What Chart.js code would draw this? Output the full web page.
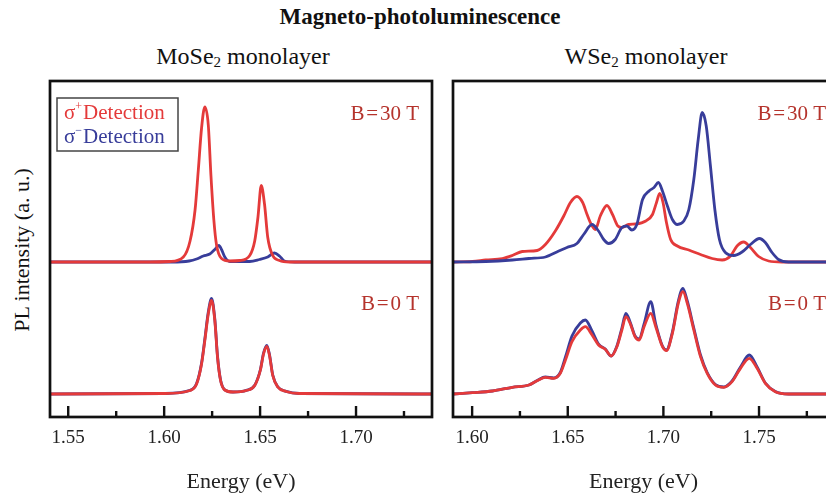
<!DOCTYPE html>
<html>
<head>
<meta charset="utf-8">
<script src="https://cdn.jsdelivr.net/npm/chart.js@4/dist/chart.umd.min.js"></script>
<style>
  html, body { margin: 0; padding: 0; background: #fff; }
  body { width: 826px; height: 498px; overflow: hidden; position: relative; font-family: "Liberation Serif", serif; color: #111; }
  canvas { position: absolute; top: 0; }
  .txt { position: absolute; white-space: nowrap; line-height: 1; }
  #mainTitle { left: 0; width: 840px; top: 5px; text-align: center; font-weight: bold; font-size: 23px; }
  .panelTitle { top: 44px; width: 380px; text-align: center; font-size: 24px; }
  .panelTitle sub { font-size: 15px; vertical-align: -3px; line-height: 0; }
  #yTitle { left: 22px; top: 250px; font-size: 22px; transform: translate(-50%, -50%) rotate(-90deg); }
</style>
</head>
<body>
<div id="mainTitle" class="txt">Magneto-photoluminescence</div>
<div class="txt panelTitle" style="left:53px">MoSe<sub>2</sub> monolayer</div>
<div class="txt panelTitle" style="left:456px">WSe<sub>2</sub> monolayer</div>
<div id="yTitle" class="txt">PL intensity (a. u.)</div>
<canvas id="moseChart" width="440" height="498" style="left:0"></canvas>
<canvas id="wseChart" width="410" height="498" style="left:440px"></canvas>
<script>
// ---- MoSe2 monolayer spectra (energy in eV, PL intensity in a.u.) ----
const mose30PlusE  = [1.5405,1.5927,1.6031,1.6100,1.6135,1.6161,1.6178,1.6195,1.6212,1.6230,1.6244,1.6259,1.6273,1.6299,1.6343,1.6394,1.6446,1.6472,1.6489,1.6506,1.6523,1.6540,1.6566,1.6601,1.6653,1.7396];
const mose30PlusI  = [0,0,0.005,0.05,0.21,0.52,0.92,1.34,1.55,1.37,0.86,0.42,0.17,0.035,0.01,0.015,0.065,0.21,0.45,0.765,0.58,0.245,0.065,0.015,0,0];
const mose30MinusE = [1.5405,1.6040,1.6130,1.6169,1.6204,1.6238,1.6264,1.6285,1.6299,1.6316,1.6342,1.6446,1.6497,1.6540,1.6575,1.6601,1.6627,1.6680,1.7396];
const mose30MinusI = [0,0,0.01,0.03,0.06,0.08,0.125,0.165,0.125,0.05,0.005,0.005,0.025,0.05,0.09,0.06,0.01,0,0];
const mose0E       = [1.5405,1.6000,1.6135,1.6169,1.6195,1.6212,1.6230,1.6247,1.6264,1.6278,1.6294,1.6316,1.6359,1.6428,1.6472,1.6501,1.6518,1.6535,1.6549,1.6566,1.6592,1.6636,1.6705,1.7396];
const mose0PlusI   = [0,0.005,0.035,0.10,0.30,0.535,0.80,0.935,0.735,0.37,0.135,0.04,0.02,0.035,0.085,0.235,0.40,0.475,0.385,0.185,0.07,0.025,0.005,0];
const mose0MinusI  = [0,0.005,0.037,0.105,0.31,0.55,0.82,0.955,0.75,0.38,0.14,0.042,0.02,0.036,0.088,0.24,0.41,0.487,0.395,0.19,0.072,0.026,0.005,0];

// ---- WSe2 monolayer spectra ----
const wse30PlusE  = [1.5900,1.6002,1.6071,1.6158,1.6210,1.6262,1.6340,1.6383,1.6435,1.6479,1.6514,1.6548,1.6578,1.6601,1.6623,1.6644,1.6670,1.6705,1.6734,1.6762,1.6783,1.6818,1.6856,1.6908,1.6943,1.6964,1.6981,1.6998,1.7016,1.7038,1.7073,1.7133,1.7194,1.7255,1.7307,1.7351,1.7385,1.7420,1.7455,1.7498,1.7550,1.7620,1.7892];
const wse30PlusI  = [0,0.005,0.02,0.035,0.065,0.105,0.115,0.175,0.31,0.46,0.595,0.655,0.595,0.475,0.375,0.325,0.46,0.565,0.475,0.36,0.345,0.375,0.38,0.41,0.475,0.595,0.685,0.595,0.395,0.225,0.16,0.12,0.075,0.035,0.02,0.06,0.16,0.20,0.145,0.055,0.01,0,0];
const wse30MinusE = [1.5900,1.6071,1.6210,1.6297,1.6383,1.6453,1.6496,1.6548,1.6583,1.6627,1.6661,1.6688,1.6714,1.6748,1.6783,1.6809,1.6835,1.6861,1.6891,1.6925,1.6951,1.6974,1.6995,1.7021,1.7047,1.7073,1.7107,1.7133,1.7159,1.7182,1.7203,1.7224,1.7246,1.7269,1.7293,1.7324,1.7368,1.7411,1.7455,1.7502,1.7533,1.7568,1.7602,1.7654,1.7892];
const wse30MinusI = [0,0.005,0.02,0.035,0.05,0.11,0.145,0.185,0.275,0.375,0.31,0.225,0.185,0.225,0.345,0.36,0.32,0.375,0.625,0.71,0.745,0.795,0.71,0.56,0.425,0.375,0.41,0.525,0.825,1.225,1.495,1.36,0.96,0.525,0.225,0.095,0.065,0.10,0.175,0.235,0.195,0.095,0.025,0,0];
const wse0E       = [1.5900,1.6002,1.6106,1.6210,1.6297,1.6340,1.6383,1.6427,1.6461,1.6488,1.6522,1.6566,1.6592,1.6627,1.6661,1.6696,1.6727,1.6757,1.6783,1.6804,1.6826,1.6852,1.6873,1.6899,1.6934,1.6960,1.6995,1.7016,1.7047,1.7078,1.7102,1.7125,1.7159,1.7194,1.7229,1.7272,1.7316,1.7359,1.7403,1.7449,1.7490,1.7533,1.7585,1.7654,1.7892];
const wse0PlusI   = [0,0.013,0.03,0.067,0.09,0.133,0.167,0.157,0.207,0.34,0.523,0.64,0.673,0.59,0.49,0.447,0.38,0.473,0.64,0.773,0.707,0.573,0.54,0.673,0.807,0.673,0.473,0.433,0.607,0.907,1.023,0.907,0.64,0.373,0.207,0.09,0.067,0.123,0.257,0.357,0.257,0.107,0.023,0,0];
const wse0MinusI  = [0,0.013,0.03,0.067,0.09,0.135,0.17,0.16,0.215,0.37,0.58,0.71,0.74,0.63,0.50,0.45,0.38,0.48,0.66,0.807,0.72,0.58,0.55,0.70,0.923,0.70,0.48,0.44,0.62,0.93,1.057,0.93,0.66,0.39,0.215,0.095,0.07,0.13,0.27,0.39,0.27,0.11,0.025,0,0];

// ---- axes ----
const moseRange = [1.5405, 1.7396];
const wseRange  = [1.5900, 1.7892];
const moseMajorTicks = [1.55, 1.60, 1.65, 1.70];
const moseMinorTicks = [1.575, 1.625, 1.675, 1.725];
const wseMajorTicks  = [1.60, 1.65, 1.70, 1.75];
const wseMinorTicks  = [1.625, 1.675, 1.725, 1.775];
const fieldLabels = ['B\u200a=\u200a30 T', 'B\u200a=\u200a0 T'];
const legendLabels = [['\u03c3', '+', 'Detection'], ['\u03c3', '\u2212', 'Detection']];

// vertical shift of the B = 30 T traces above the B = 0 T traces
const FIELD_OFFSET = 1.32;

const RED = '#e43a3a';
const BLUE = '#383d9a';
const LABEL_RED = '#b5332c';
const SERIF = '"Liberation Serif", "Times New Roman", serif';

function points(E, I, shift) {
  const n = Math.min(E.length, I.length);
  const out = [];
  for (let i = 0; i < n; i++) out.push({ x: E[i], y: I[i] + shift });
  return out;
}

function trace(label, data, color, order) {
  return {
    label, data, borderColor: color, backgroundColor: color,
    borderWidth: 2.8, pointRadius: 0, fill: false,
    cubicInterpolationMode: 'monotone', order
  };
}

// frame, inward tick marks, field labels and the detection legend
const panelDecor = {
  id: 'panelDecor',
  afterDatasetsDraw(chart, args, opts) {
    const { ctx, chartArea: a, scales: { x } } = chart;
    ctx.save();
    ctx.strokeStyle = '#111';
    ctx.lineCap = 'butt';
    ctx.lineWidth = 2.4;
    opts.major.forEach(v => {
      const px = x.getPixelForValue(v);
      ctx.beginPath(); ctx.moveTo(px, a.bottom); ctx.lineTo(px, a.bottom - 11); ctx.stroke();
    });
    opts.minor.forEach(v => {
      const px = x.getPixelForValue(v);
      ctx.beginPath(); ctx.moveTo(px, a.bottom); ctx.lineTo(px, a.bottom - 6); ctx.stroke();
    });
    ctx.lineWidth = 2.7;
    ctx.strokeRect(a.left, a.top, a.right - a.left, a.bottom - a.top);

    ctx.fillStyle = LABEL_RED;
    ctx.font = '21px ' + SERIF;
    ctx.textAlign = 'right';
    ctx.textBaseline = 'middle';
    ctx.fillText(fieldLabels[0], a.right - opts.labelInset, a.top + 33);
    ctx.fillText(fieldLabels[1], a.right - opts.labelInset, a.top + 223);

    if (opts.legend) {
      const bx = a.left + 7, by = a.top + 17, bw = 121, bh = 53;
      ctx.strokeStyle = '#444';
      ctx.lineWidth = 1.5;
      ctx.strokeRect(bx, by, bw, bh);
      const colors = [RED, BLUE];
      legendLabels.forEach((parts, i) => {
        const ty = by + 15 + i * 24;
        let tx = bx + 7;
        ctx.fillStyle = colors[i];
        ctx.textAlign = 'left';
        ctx.font = '21px ' + SERIF;
        ctx.fillText(parts[0], tx, ty);
        tx += ctx.measureText(parts[0]).width;
        ctx.font = '12px ' + SERIF;
        ctx.fillText(parts[1], tx, ty - 6);
        tx += ctx.measureText(parts[1]).width + 1;
        ctx.font = '21px ' + SERIF;
        ctx.fillText(parts[2], tx, ty);
      });
    }
    ctx.restore();
  }
};

function makeChart(id, range, major, minor, sets, legend, labelInset, pad) {
  return new Chart(document.getElementById(id), {
    type: 'line',
    data: { datasets: sets },
    plugins: [panelDecor],
    options: {
      responsive: false,
      animation: false,
      devicePixelRatio: 1,
      layout: { padding: pad },
      plugins: {
        legend: { display: false },
        tooltip: { enabled: false },
        panelDecor: { major, minor, legend, labelInset }
      },
      scales: {
        x: {
          type: 'linear', min: range[0], max: range[1],
          afterBuildTicks: s => { s.ticks = major.map(v => ({ value: v })); },
          afterFit: s => { s.height = 81; },
          grid: { display: false, drawTicks: false },
          border: { display: false },
          ticks: {
            autoSkip: false, maxRotation: 0, padding: 10,
            color: '#222', font: { family: SERIF, size: 19 },
            callback: v => Number(v).toFixed(2)
          },
          title: {
            display: true, text: 'Energy (eV)', color: '#222',
            font: { family: SERIF, size: 22 }, padding: { top: 0, bottom: 3 }
          }
        },
        y: { display: false, min: -0.23, max: 3.13 }
      }
    }
  });
}

makeChart('moseChart', moseRange, moseMajorTicks, moseMinorTicks, [
  trace('\u03c3+ detection, B = 30 T', points(mose30PlusE, mose30PlusI, FIELD_OFFSET), RED, 1),
  trace('\u03c3- detection, B = 30 T', points(mose30MinusE, mose30MinusI, FIELD_OFFSET), BLUE, 2),
  trace('\u03c3+ detection, B = 0 T', points(mose0E, mose0PlusI, 0), RED, 1),
  trace('\u03c3- detection, B = 0 T', points(mose0E, mose0MinusI, 0), BLUE, 2)
], true, 13, { left: 50, right: 8, top: 81, bottom: 0 });

makeChart('wseChart', wseRange, wseMajorTicks, wseMinorTicks, [
  trace('\u03c3+ detection, B = 30 T', points(wse30PlusE, wse30PlusI, FIELD_OFFSET), RED, 2),
  trace('\u03c3- detection, B = 30 T', points(wse30MinusE, wse30MinusI, FIELD_OFFSET), BLUE, 1),
  trace('\u03c3+ detection, B = 0 T', points(wse0E, wse0PlusI, 0), RED, 1),
  trace('\u03c3- detection, B = 0 T', points(wse0E, wse0MinusI, 0), BLUE, 2)
], false, 8, { left: 13, right: 16, top: 81, bottom: 0 });
</script>
</body>
</html>
